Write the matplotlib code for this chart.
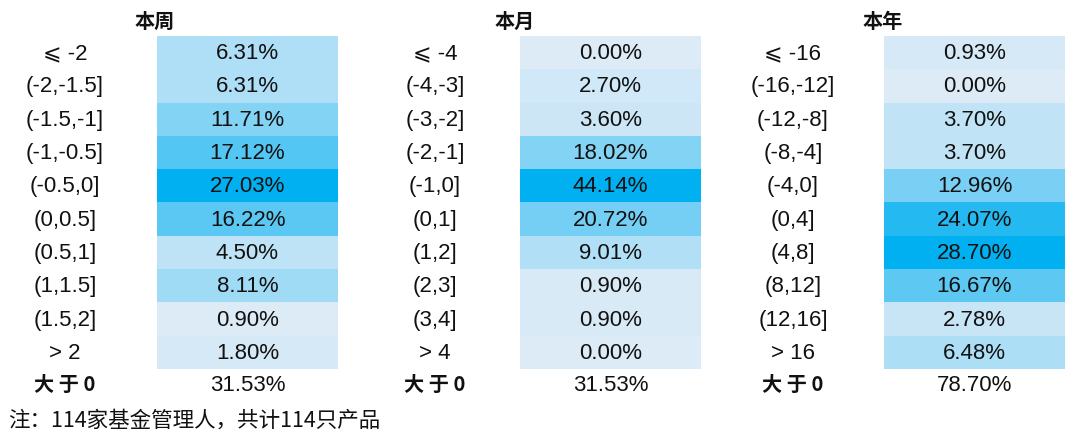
import matplotlib
matplotlib.use("Agg")
import matplotlib.pyplot as plt
from matplotlib.colors import LinearSegmentedColormap, Normalize

plt.rcParams['font.family'] = ['Liberation Sans', 'Noto Sans CJK SC', 'DejaVu Sans']

titles = ["本周", "本月", "本年"]

week_labels = ["⩽ -2", "(-2,-1.5]", "(-1.5,-1]", "(-1,-0.5]", "(-0.5,0]", "(0,0.5]",
               "(0.5,1]", "(1,1.5]", "(1.5,2]", "> 2"]
week_values = [6.31, 6.31, 11.71, 17.12, 27.03, 16.22, 4.50, 8.11, 0.90, 1.80]
week_above0 = 31.53

month_labels = ["⩽ -4", "(-4,-3]", "(-3,-2]", "(-2,-1]", "(-1,0]", "(0,1]",
                "(1,2]", "(2,3]", "(3,4]", "> 4"]
month_values = [0.00, 2.70, 3.60, 18.02, 44.14, 20.72, 9.01, 0.90, 0.90, 0.00]
month_above0 = 31.53

year_labels = ["⩽ -16", "(-16,-12]", "(-12,-8]", "(-8,-4]", "(-4,0]", "(0,4]",
               "(4,8]", "(8,12]", "(12,16]", "> 16"]
year_values = [0.93, 0.00, 3.70, 3.70, 12.96, 24.07, 28.70, 16.67, 2.78, 6.48]
year_above0 = 78.70

footnote = "注：114家基金管理人，共计114只产品"
above_label = "大 于 0"

cmap = LinearSegmentedColormap.from_list("xl", ["#DDEBF7", "#00B0F0"])

fig = plt.figure(figsize=(10.8, 4.44), dpi=100)
ax = fig.add_axes([0, 0, 1, 1])
ax.set_xlim(0, 1080)
ax.set_ylim(444, 0)
ax.axis("off")

tables = [
    (week_labels, week_values, week_above0, 65, 157, 155),
    (month_labels, month_values, month_above0, 435, 520, 515),
    (year_labels, year_values, year_above0, 793, 884, 883),
]
cell_w = 181
row_h = 33.3
top = 36
txt = "#111111"
for i, (labels, vals, above, lx, cx0, hx) in enumerate(tables):
    norm = Normalize(vmin=min(vals), vmax=max(vals))
    ys = [top + row_h * (k + 0.5) for k in range(len(vals))]
    ax.barh(ys, [cell_w] * len(vals), left=cx0, height=row_h,
            color=[cmap(norm(v)) for v in vals], edgecolor="none")
    ax.text(hx, 21, titles[i], ha="center", va="center", fontsize=14.5,
            fontweight="bold", family=['Noto Sans CJK SC'], color=txt)
    for y, lab, v in zip(ys, labels, vals):
        ax.text(lx, y + 1, lab, ha="center", va="center", fontsize=16,
                family=['Liberation Sans', 'DejaVu Sans', 'Noto Sans CJK SC'], color=txt)
        ax.text(cx0 + cell_w / 2, y + 1, f"{v:.2f}%", ha="center", va="center",
                fontsize=16, color=txt)
    ya = top + row_h * 10 + 15.5
    ax.text(lx, ya, above_label, ha="center", va="center", fontsize=14.5,
            fontweight="bold", family=['Noto Sans CJK SC'], color=txt)
    ax.text(cx0 + cell_w / 2, ya + 1, f"{above:.2f}%", ha="center", va="center",
            fontsize=16, color=txt)

ax.text(8, 421, footnote, ha="left", va="center", fontsize=15.5,
        family=['Noto Sans CJK SC'], color=txt)

fig.savefig("out.png", dpi=100)
